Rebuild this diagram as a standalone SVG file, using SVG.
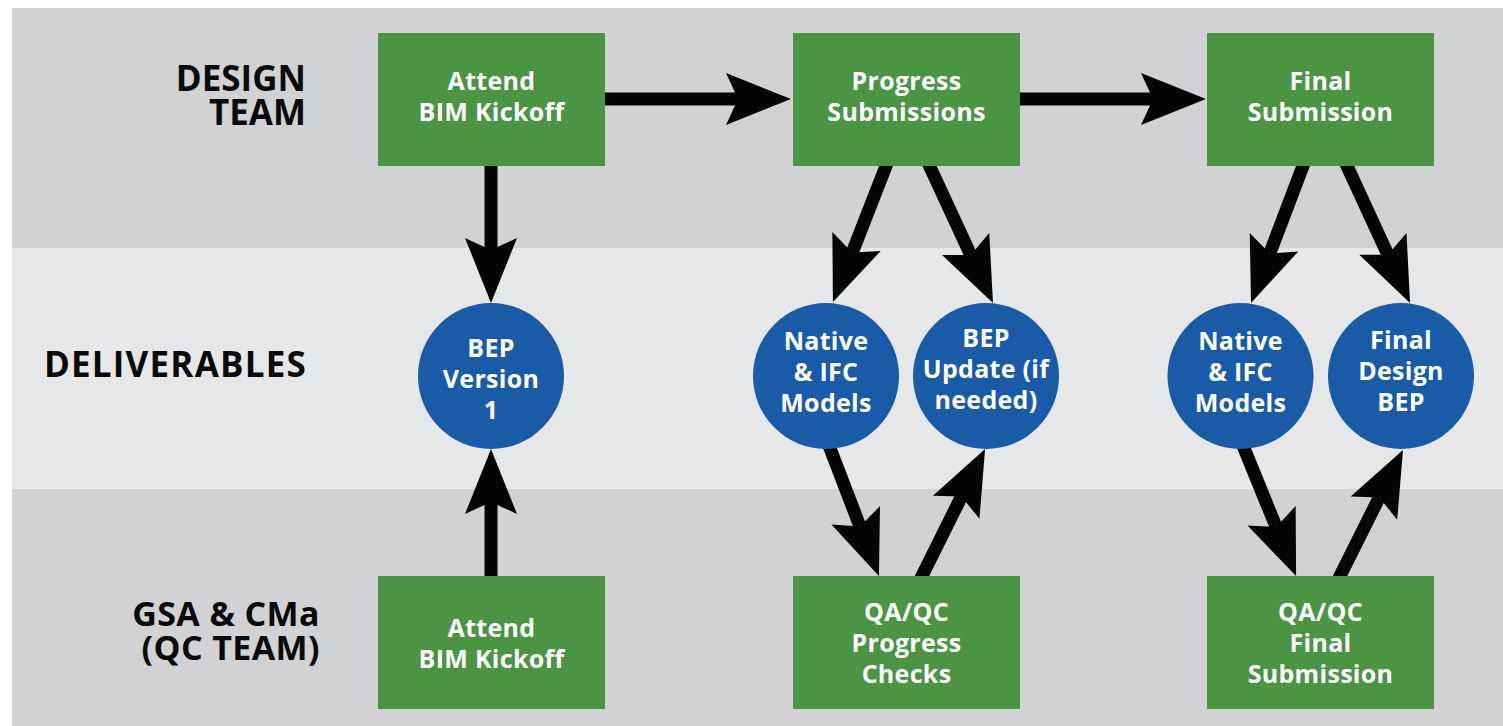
<svg xmlns="http://www.w3.org/2000/svg" width="1503" height="726" viewBox="0 0 1503 726">
<style>
.bandd{fill:#d1d2d4}
.bandl{fill:#e6e7e8}
.box{fill:#4a9444}
.circ{fill:#1a5ba8}
.lbl{font-family:"Open Sans","Noto Sans",sans-serif;font-weight:700;fill:#0a0a0a;text-anchor:end}
.nt{font-family:"Open Sans","Noto Sans",sans-serif;font-weight:700;fill:#ffffff;font-size:25px;letter-spacing:0.3px;text-anchor:middle}
.conn{stroke:#050505;stroke-width:13;fill:none;marker-end:url(#ah)}
</style>
<defs>
<marker id="ah" markerUnits="userSpaceOnUse" orient="auto" refX="0" refY="0" markerWidth="140" markerHeight="140" viewBox="-70 -70 140 140" overflow="visible">
<path d="M53,0 L-12,-26 L0,0 L-12,26 Z" fill="#050505"/>
</marker>
</defs>
<rect x="0" y="0" width="1503" height="726" fill="#ffffff"/>
<rect class="bandd" x="12" y="8" width="1491" height="240"/>
<rect class="bandl" x="12" y="248" width="1491" height="241"/>
<rect class="bandd" x="12" y="489" width="1491" height="237"/>

<g id="lane-labels">
<text class="lbl" font-size="35" x="306" y="91">DESIGN</text>
<text class="lbl" font-size="35" x="306" y="125">TEAM</text>
<text class="lbl" font-size="35" letter-spacing="1.2" x="307" y="377">DELIVERABLES</text>
<text class="lbl" font-size="34" letter-spacing="0.4" x="320" y="626">GSA &amp; CMa</text>
<text class="lbl" font-size="34" letter-spacing="0.4" x="320" y="660">(QC TEAM)</text>
</g>

<g id="connectors">
<line class="conn" x1="600" y1="99" x2="738" y2="99"/>
<line class="conn" x1="1015" y1="99" x2="1153" y2="99"/>
<line class="conn" x1="491" y1="160" x2="491" y2="250"/>
<line class="conn" x1="491" y1="582" x2="491" y2="502"/>
<line class="conn" x1="888.2" y1="160.4" x2="852.2" y2="252.6"/>
<line class="conn" x1="927" y1="160.6" x2="970.7" y2="254.9"/>
<line class="conn" x1="1305.1" y1="160.4" x2="1269.8" y2="253.4"/>
<line class="conn" x1="1344.5" y1="160.5" x2="1387.9" y2="254.8"/>
<line class="conn" x1="826.4" y1="438.7" x2="860" y2="526.5"/>
<line class="conn" x1="919.3" y1="581.4" x2="961.5" y2="496.5"/>
<line class="conn" x1="1240.2" y1="438.7" x2="1276.1" y2="526.9"/>
<line class="conn" x1="1337.3" y1="581.4" x2="1379.3" y2="497.4"/>
</g>

<g id="n-attend-design">
<rect class="box" x="378" y="33" width="227" height="133"/>
<text class="nt" x="491.5" y="90">Attend</text>
<text class="nt" x="491.5" y="121">BIM Kickoff</text>
</g>
<g id="n-progress-submissions">
<rect class="box" x="793" y="33" width="227" height="133"/>
<text class="nt" x="906.5" y="90">Progress</text>
<text class="nt" x="906.5" y="121">Submissions</text>
</g>
<g id="n-final-submission">
<rect class="box" x="1207" y="33" width="227" height="133"/>
<text class="nt" x="1320.5" y="90">Final</text>
<text class="nt" x="1320.5" y="121">Submission</text>
</g>

<g id="n-bep-v1">
<circle class="circ" cx="491" cy="376" r="73"/>
<text class="nt" x="491" y="357">BEP</text>
<text class="nt" x="491" y="388">Version</text>
<text class="nt" x="491" y="419">1</text>
</g>
<g id="n-native-ifc-progress">
<circle class="circ" cx="826" cy="376" r="73"/>
<text class="nt" x="826" y="350">Native</text>
<text class="nt" x="826" y="381">&amp; IFC</text>
<text class="nt" x="826" y="412">Models</text>
</g>
<g id="n-bep-update">
<circle class="circ" cx="986" cy="376" r="73"/>
<text class="nt" x="986" y="347">BEP</text>
<text class="nt" x="986" y="378">Update (if</text>
<text class="nt" x="986" y="409">needed)</text>
</g>
<g id="n-native-ifc-final">
<circle class="circ" cx="1240.5" cy="376" r="73"/>
<text class="nt" x="1240.5" y="350">Native</text>
<text class="nt" x="1240.5" y="381">&amp; IFC</text>
<text class="nt" x="1240.5" y="412">Models</text>
</g>
<g id="n-final-design-bep">
<circle class="circ" cx="1401" cy="376" r="73"/>
<text class="nt" x="1401" y="349">Final</text>
<text class="nt" x="1401" y="380">Design</text>
<text class="nt" x="1401" y="411">BEP</text>
</g>

<g id="n-attend-qc">
<rect class="box" x="378" y="576" width="227" height="133"/>
<text class="nt" x="491.5" y="637">Attend</text>
<text class="nt" x="491.5" y="668">BIM Kickoff</text>
</g>
<g id="n-qaqc-progress">
<rect class="box" x="793" y="576" width="227" height="133"/>
<text class="nt" x="906.5" y="621">QA/QC</text>
<text class="nt" x="906.5" y="652">Progress</text>
<text class="nt" x="906.5" y="683">Checks</text>
</g>
<g id="n-qaqc-final">
<rect class="box" x="1207" y="576" width="227" height="133"/>
<text class="nt" x="1320.5" y="621">QA/QC</text>
<text class="nt" x="1320.5" y="652">Final</text>
<text class="nt" x="1320.5" y="683">Submission</text>
</g>
</svg>
